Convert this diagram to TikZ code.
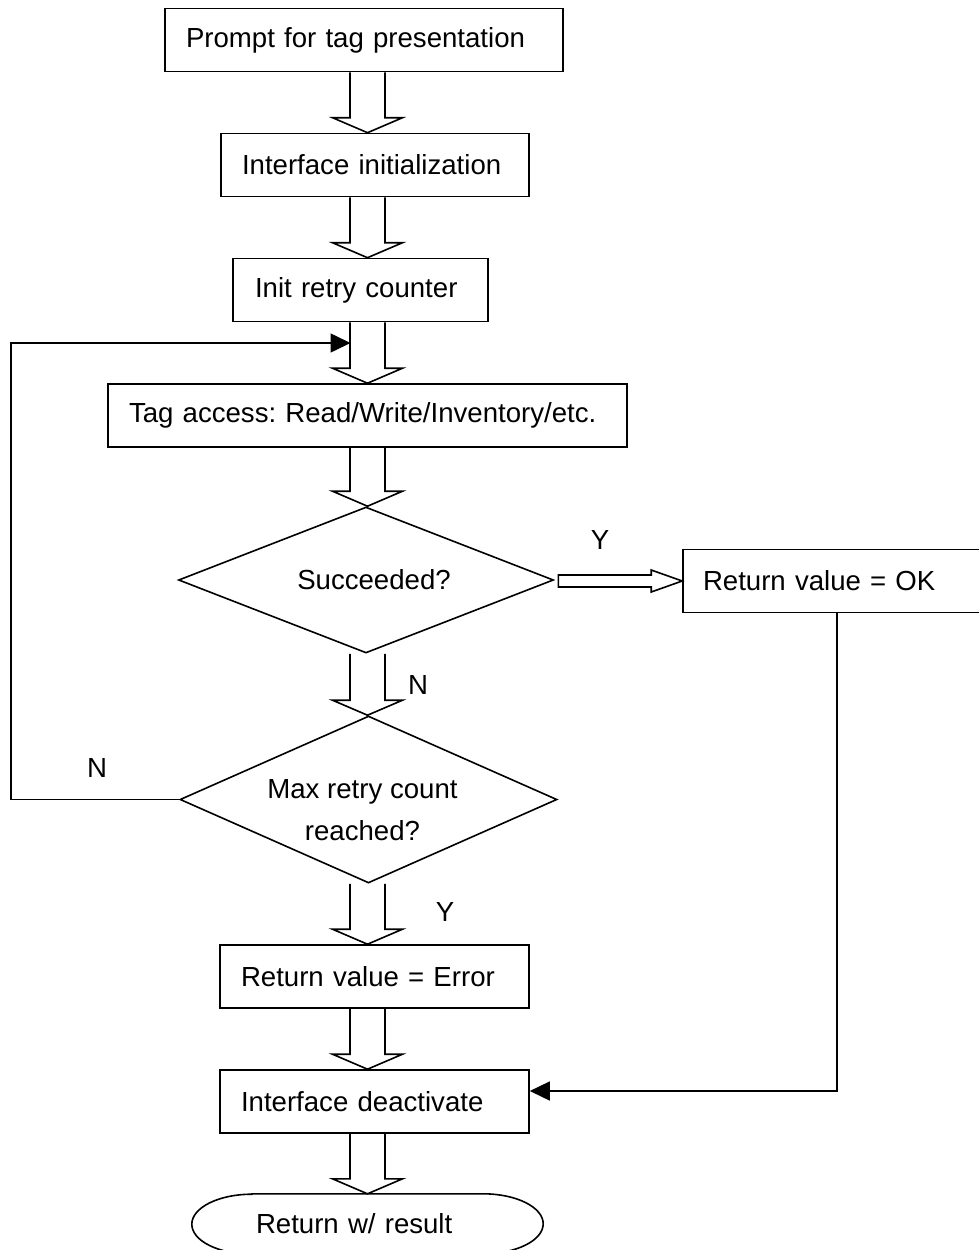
\documentclass[tikz,border=0pt]{standalone}
\usepackage{fontspec}
\setmainfont{Liberation Sans}
\usetikzlibrary{shapes.geometric,arrows.meta,calc}
\frenchspacing
\newcommand\hollowdn[2]{%
  \draw[hol] let \p1=(ax |- #1), \p2=(ax |- #2) in
    ({\x1-17.5pt},\y1) -- ({\x1-17.5pt},{\y2+15pt}) -- ({\x1-35pt},{\y2+15pt})
    -- (\x2,\y2) -- ({\x1+35pt},{\y2+15pt}) -- ({\x1+17.5pt},{\y2+15pt})
    -- ({\x1+17.5pt},\y1);}
\begin{document}
\begin{tikzpicture}[x=1pt,y=-1pt,
  every node/.style={font=\fontsize{27.6}{42}\selectfont},
  box/.style={draw,line width=1.6pt,minimum height=63pt,inner xsep=21pt,inner ysep=0pt,align=left},
  dec/.style={draw,diamond,line width=1.6pt,inner sep=0pt},
  hol/.style={draw,line width=1.6pt,line join=miter},
  conn/.style={draw,line width=1.6pt,line join=miter},
  tip/.style={-{Triangle[length=20pt,width=19pt]}},
  lbl/.style={inner sep=0pt}]
\clip (0,0) rectangle (979,1250);
\coordinate (ax) at (367.5,0);
% boxes
\node[box,text width=356pt] (b1) at (364,40) {Prompt for tag presentation};
\node[box,text width=266pt] (b2) at (375,165) {Interface initialization};
\node[box,text width=211pt,inner xsep=22pt] (b3) at (360.5,290) {Init retry counter};
\node[box,text width=477pt] (b4) at (367.5,415.5) {Tag access: Read/Write/Inventory/etc.};
\node[dec,minimum width=375pt,minimum height=146pt,
  label={[lbl,xshift=8pt]center:Succeeded?}] (d1) at (366,580) {};
\node[box,text width=277pt,inner xsep=20pt] (ok) at (841.5,581) {Return value = OK};
\node[dec,minimum width=377pt,minimum height=167pt,
  label={[lbl,align=center,xshift=-6pt,yshift=-11pt]center:{Max retry count\\reached?}}] (d2) at (368.5,799.5) {};
\node[box,text width=267pt,inner xsep=21pt] (err) at (374.5,976.5) {Return value = Error};
\node[box,text width=267pt,inner xsep=21pt] (dea) at (374.5,1101.5) {Interface deactivate};
\node[minimum width=351pt,minimum height=60pt,inner xsep=64pt,inner ysep=0pt,
  text width=223pt,align=left] (term) at (367.5,1224) {Return w/ result};
\draw[conn] ([xshift=60pt]term.north west) -- ([xshift=-60pt]term.north east)
  arc[start angle=90,end angle=-90,x radius=60pt,y radius=30pt]
  -- ([xshift=60pt]term.south west)
  arc[start angle=270,end angle=90,x radius=60pt,y radius=30pt] -- cycle;
% labels
\node[lbl] (ly1) at (600,540) {Y};
\node[lbl] (ln1) at (418,685) {N};
\node[lbl] (ln2) at (97,768) {N};
\node[lbl] (ly2) at (445,912) {Y};
% hollow arrows
\hollowdn{b1.south}{b2.north}
\hollowdn{b2.south}{b3.north}
\hollowdn{b3.south}{b4.north}
\hollowdn{b4.south}{d1.north}
\hollowdn{d1.south}{d2.north}
\hollowdn{d2.south}{err.north}
\hollowdn{err.south}{dea.north}
\hollowdn{dea.south}{term.north}
\draw[hol] let \p1=(d1.east), \p2=(ok.west) in
  ({\x1+4pt},{\y2+6pt}) -- ({\x2-31pt},{\y2+6pt}) -- ({\x2-31pt},{\y2+11pt})
  -- (\x2,\y2) -- ({\x2-31pt},{\y2-11pt}) -- ({\x2-31pt},{\y2-6pt})
  -- ({\x1+4pt},{\y2-6pt}) -- cycle;
% feedback loop
\coordinate (lx) at (11,0);
\coordinate (fb) at (350.5,343);
\draw[conn,tip] (d2.west) -- (lx |- d2.west) -- (lx |- fb) -- (fb);
% OK to deactivate
\coordinate (okx) at (837,0);
\draw[conn,tip] (ok.south -| okx) |- ([yshift=10.5pt]dea.east);
\end{tikzpicture}
\end{document}
